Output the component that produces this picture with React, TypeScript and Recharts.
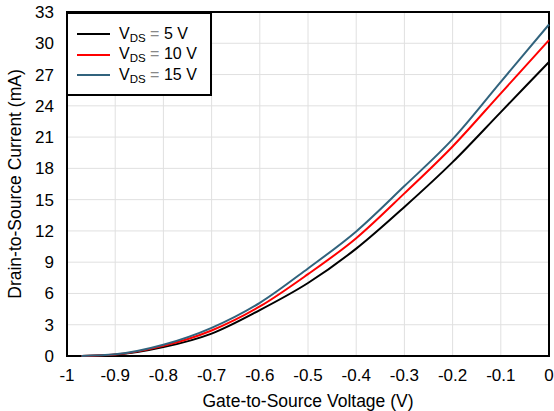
import React from "react";
import {
  CartesianGrid,
  Legend,
  Line,
  LineChart,
  ReferenceArea,
  XAxis,
  YAxis,
} from "recharts";

// gate-to-source voltage (V)
const vgs = [-0.97, -0.9, -0.8, -0.7, -0.6, -0.5, -0.4, -0.3, -0.2, -0.1, 0];
// drain current (mA) per VDS
const id5 = [0, 0.12, 0.85, 2.15, 4.4, 7.0, 10.3, 14.3, 18.6, 23.4, 28.2];
const id10 = [0, 0.14, 0.97, 2.45, 4.75, 7.85, 11.3, 15.6, 20.1, 25.2, 30.3];
const id15 = [0, 0.16, 1.08, 2.7, 5.1, 8.4, 11.95, 16.3, 20.8, 26.3, 31.8];

const xTicks = [-1, -0.9, -0.8, -0.7, -0.6, -0.5, -0.4, -0.3, -0.2, -0.1, 0];
const yTicks = [0, 3, 6, 9, 12, 15, 18, 21, 24, 27, 30, 33];

const series = [
  { key: "v5", vds: "5 V", color: "#000000" },
  { key: "v10", vds: "10 V", color: "#ff0000" },
  { key: "v15", vds: "15 V", color: "#31637d" },
];

const data = vgs.map((v, i) => ({ vgs: v, v5: id5[i], v10: id10[i], v15: id15[i] }));

const font = "'Liberation Sans', Arial, sans-serif";

function LegendBox() {
  return (
    <div
      style={{
        width: 146,
        height: 84,
        boxSizing: "border-box",
        border: "2px solid #000",
        background: "#fff",
        padding: "10px 0 0 9px",
        fontFamily: font,
        fontSize: 16,
        color: "#000",
      }}
    >
      {series.map((s) => (
        <div key={s.key} style={{ display: "flex", alignItems: "center", height: 20.5 }}>
          <span style={{ width: 33, height: 2, background: s.color, marginRight: 9 }} />
          <span style={{ whiteSpace: "nowrap" }}>
            V<sub style={{ fontSize: 11.5, verticalAlign: "-3px" }}>DS</sub>
            <span style={{ color: "#888" }}> = </span>
            {s.vds}
          </span>
        </div>
      ))}
    </div>
  );
}

export default function App() {
  return (
    <div style={{ position: "fixed", left: 0, top: 0, background: "#fff" }}>
      <LineChart width={554} height={411} data={data} margin={{ top: 12, right: 5, left: 0, bottom: 0 }}>
        <CartesianGrid stroke="#e0e0e0" strokeWidth={1} />
        <XAxis
          dataKey="vgs"
          type="number"
          domain={[-1, 0]}
          ticks={xTicks}
          interval={0}
          height={55}
          tickLine={false}
          axisLine={false}
          tickMargin={7}
          tick={{ fontSize: 17, fill: "#000", fontFamily: font }}
          label={{
            value: "Gate-to-Source Voltage (V)",
            position: "insideBottom",
            offset: 4,
            style: { fontSize: 17.5, fill: "#000", fontFamily: font },
          }}
        />
        <YAxis
          type="number"
          domain={[0, 33]}
          ticks={yTicks}
          interval={0}
          width={67}
          tickLine={false}
          axisLine={false}
          tickMargin={7}
          tick={{ fontSize: 17, fill: "#000", fontFamily: font }}
          label={{
            value: "Drain-to-Source Current (mA)",
            angle: -90,
            position: "insideLeft",
            offset: 15,
            style: { fontSize: 17.5, fill: "#000", fontFamily: font, textAnchor: "middle" },
          }}
        />
        <ReferenceArea x1={-1} x2={0} y1={0} y2={33} fill="none" stroke="#000" strokeWidth={2} />
        {series.map((s) => (
          <Line
            key={s.key}
            dataKey={s.key}
            type="monotone"
            stroke={s.color}
            strokeWidth={2}
            dot={false}
            isAnimationActive={false}
          />
        ))}
        <Legend
          layout="vertical"
          align="center"
          verticalAlign="middle"
          content={() => <LegendBox />}
          wrapperStyle={{ position: "absolute", left: 66, top: 12, width: 146, height: 84 }}
        />
      </LineChart>
    </div>
  );
}
